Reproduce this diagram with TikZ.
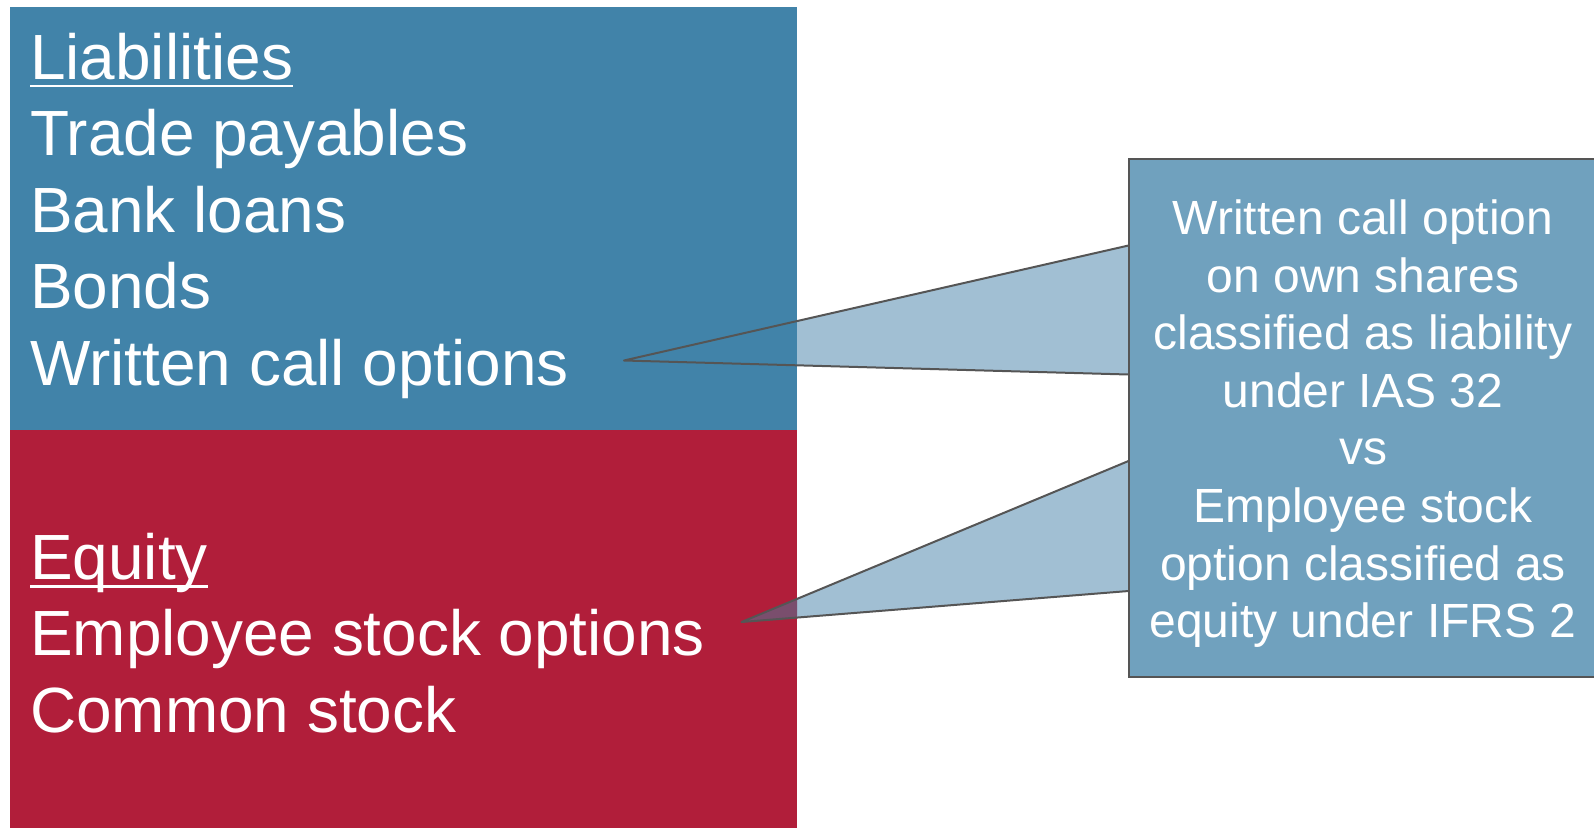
\documentclass[tikz,border=0pt]{standalone}
\usepackage{fontspec}
\setmainfont{Liberation Sans}
\definecolor{liabblue}{HTML}{4183A9}
\definecolor{eqred}{HTML}{B11E3A}
\definecolor{notefill}{HTML}{70A1BE}
\definecolor{wedgefill}{HTML}{A1BFD3}
\definecolor{wedgeover}{HTML}{7A4E6D}
\definecolor{edgegray}{HTML}{555555}

\begin{document}
\begin{tikzpicture}[x=1pt,y=-1pt,
  item/.style={anchor=base west, inner sep=0pt, text=white,
               font=\fontsize{63.9}{76}\selectfont},
  uline/.style={white, line width=2.6pt},
  wedgeline/.style={draw=edgegray, line width=2pt, line join=round},
  notebox/.style={draw=edgegray, line width=2pt, fill=notefill,
                  minimum width=469.5pt, minimum height=518.4pt, inner sep=0pt},
  notetxt/.style={anchor=north, align=center, inner sep=0pt, text=white,
                  font=\fontsize{48}{57.6}\selectfont}]
\useasboundingbox (0,0) rectangle (1594,828);

% callout wedge corners
\coordinate (t1) at (624,360.5);
\coordinate (a1) at (1128.5,245.5);
\coordinate (b1) at (1128.5,374.5);
\coordinate (t2) at (741.5,622);
\coordinate (a2) at (1128.5,461);
\coordinate (b2) at (1128.5,591);

% wedge fills sit behind the balance-sheet panels
\fill[wedgefill] (t1) -- (a1) -- (b1) -- cycle;
\fill[wedgefill] (t2) -- (a2) -- (b2) -- cycle;

% balance-sheet panels
\fill[liabblue] (10,6.5) rectangle (797,430);
\fill[eqred] (10,430) rectangle (797,828);
\begin{scope}
  \clip (10,430) rectangle (797,828);
  \fill[wedgeover] (t2) -- (a2) -- (b2) -- cycle;
\end{scope}

% liabilities
\node[item] (liab) at (30,79) {Liabilities};
\draw[uline] ([yshift=-7pt]liab.base west) -- ([yshift=-7pt]liab.base east);
\node[item] (trade) at (30,155.5) {Trade payables};
\node[item] (bank) at (30,232) {Bank loans};
\node[item] (bonds) at (30,308.5) {Bonds};
\node[item] (wco) at (30,385) {Written call options};

% equity
\node[item] (eq) at (30,579) {Equity};
\draw[uline] ([yshift=-7.5pt]eq.base west) -- ([yshift=-7.5pt]eq.base east);
\node[item] (eso) at (30,655.5) {Employee stock options};
\node[item] (cs) at (30,732) {Common stock};

% callout box
\node[notebox] (note) at (1363.25,417.8) {};
\node[notetxt] (notetext) at (1363,199.6)
  {Written call option\\on own shares\\classified as liability\\under IAS 32\\vs\\Employee stock\\option classified as\\equity under IFRS 2};

% wedge outlines
\draw[wedgeline] (a1) -- (t1) -- (b1);
\draw[wedgeline] (a2) -- (t2) -- (b2);
\end{tikzpicture}
\end{document}
